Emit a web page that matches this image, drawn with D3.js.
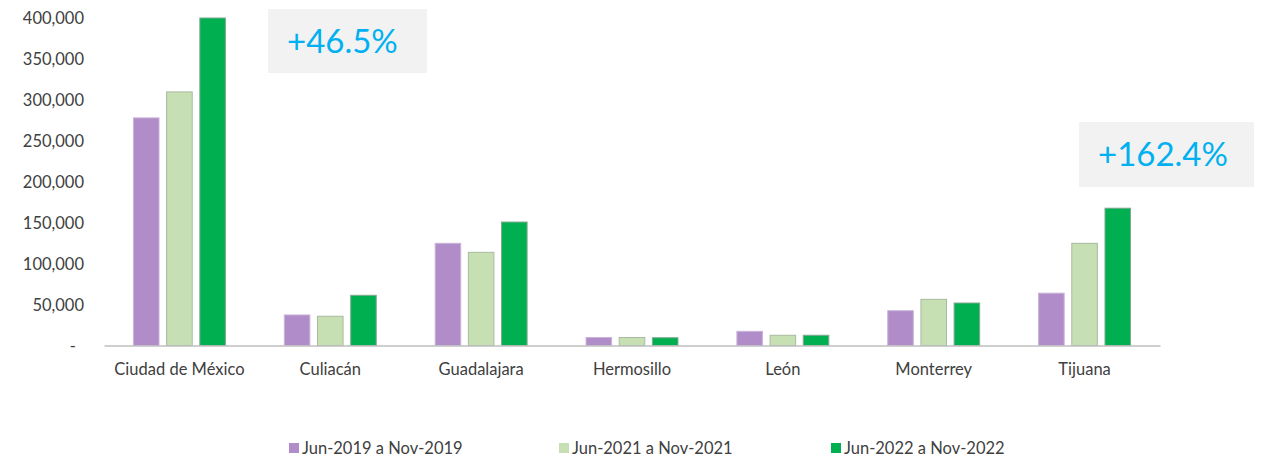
<!DOCTYPE html>
<html><head><meta charset="utf-8">
<script src="https://cdn.jsdelivr.net/npm/d3@7"></script>
<style>
html,body{margin:0;padding:0;background:#fff;}
svg{display:block;font-family:Lato,"Open Sans",sans-serif;}
</style></head>
<body>
<svg id="chart" width="1266" height="458"></svg>
<script>
const categories = ["Ciudad de México","Culiacán","Guadalajara","Hermosillo","León","Monterrey","Tijuana"];
const seriesNames = ["Jun-2019 a Nov-2019","Jun-2021 a Nov-2021","Jun-2022 a Nov-2022"];
const values2019 = [278000, 37300, 124800, 9800, 17300, 42500, 63900];
const values2021 = [309700, 35700, 113800, 9800, 12500, 56400, 124800];
const values2022 = [400000, 61300, 150800, 9500, 12500, 51900, 167700];
const yTicks = [0, 50000, 100000, 150000, 200000, 250000, 300000, 350000, 400000];
const annotations = [
  {label: "+46.5%", box: [268, 9, 159, 64], text: [287, 53]},
  {label: "+162.4%", box: [1079, 122, 175, 65], text: [1098, 166]}
];
const colors = ["#b08cc8", "#c6e0b4", "#00b050"];
const strokes = ["#c9b4d8", "#a9b99f", "#7fa88f"];
const allSeries = [values2019, values2021, values2022];

const svg = d3.select("#chart");
const plotLeft = 104, plotRight = 1160, plotTop = 18, plotBottom = 345.5;

const y = d3.scaleLinear().domain([0, 400000]).range([plotBottom, plotTop]);
const x0 = d3.scaleBand().domain(categories).range([plotLeft, plotRight]).paddingInner(0.384).paddingOuter(0.192);
const x1 = d3.scaleBand().domain(d3.range(3)).range([0, x0.bandwidth()]).paddingInner(0.2);

// annotations boxes
annotations.forEach(a => {
  svg.append("rect").attr("x", a.box[0]).attr("y", a.box[1]).attr("width", a.box[2]).attr("height", a.box[3]).attr("fill", "#f2f2f2");
  svg.append("text").attr("x", a.text[0]).attr("y", a.text[1]).attr("fill", "#00b0f0")
    .attr("font-size", 33).text(a.label);
});

// y axis labels
const fmt = d3.format(",");
const yAxis = d3.axisLeft(y).tickValues(yTicks).tickSize(0).tickPadding(0)
  .tickFormat(d => d === 0 ? "-" : fmt(d));
const gy = svg.append("g").attr("transform", "translate(84,0)").call(yAxis);
gy.select(".domain").remove();
gy.selectAll("text").attr("font-size", 16.5).attr("fill", "#404040").attr("font-family", "Lato")
  .attr("dx", d => d === 0 ? -8 : 0).attr("dy", "0.35em");

// bars
const groups = svg.append("g").selectAll("g").data(categories).join("g")
  .attr("transform", d => `translate(${x0(d)},0)`);
groups.selectAll("rect").data((d, i) => allSeries.map((s, k) => ({k, v: s[i]}))).join("rect")
  .attr("x", d => x1(d.k) + 0.5)
  .attr("y", d => y(d.v))
  .attr("width", x1.bandwidth() - 1)
  .attr("height", d => plotBottom - y(d.v))
  .attr("fill", d => colors[d.k])
  .attr("stroke", d => strokes[d.k]).attr("stroke-width", 1);

// x axis
const xAxis = d3.axisBottom(x0).tickSize(0).tickPadding(18);
const gx = svg.append("g").attr("transform", `translate(0,${plotBottom})`).call(xAxis);
gx.select(".domain").attr("stroke", "#bfbfbf").attr("stroke-width", 1.5);
gx.selectAll("text").attr("font-size", 16.5).attr("fill", "#404040").attr("font-family", "Lato");

// legend
const legendX = [289, 559, 831];
const legend = svg.append("g").selectAll("g").data(seriesNames).join("g")
  .attr("transform", (d, i) => `translate(${legendX[i]},442)`);
legend.append("rect").attr("width", 10).attr("height", 10).attr("y", 1).attr("fill", (d, i) => colors[i]);
legend.append("text").attr("x", 13).attr("y", 12).attr("font-size", 16.5).attr("fill", "#404040").text(d => d);
</script>
</body></html>
